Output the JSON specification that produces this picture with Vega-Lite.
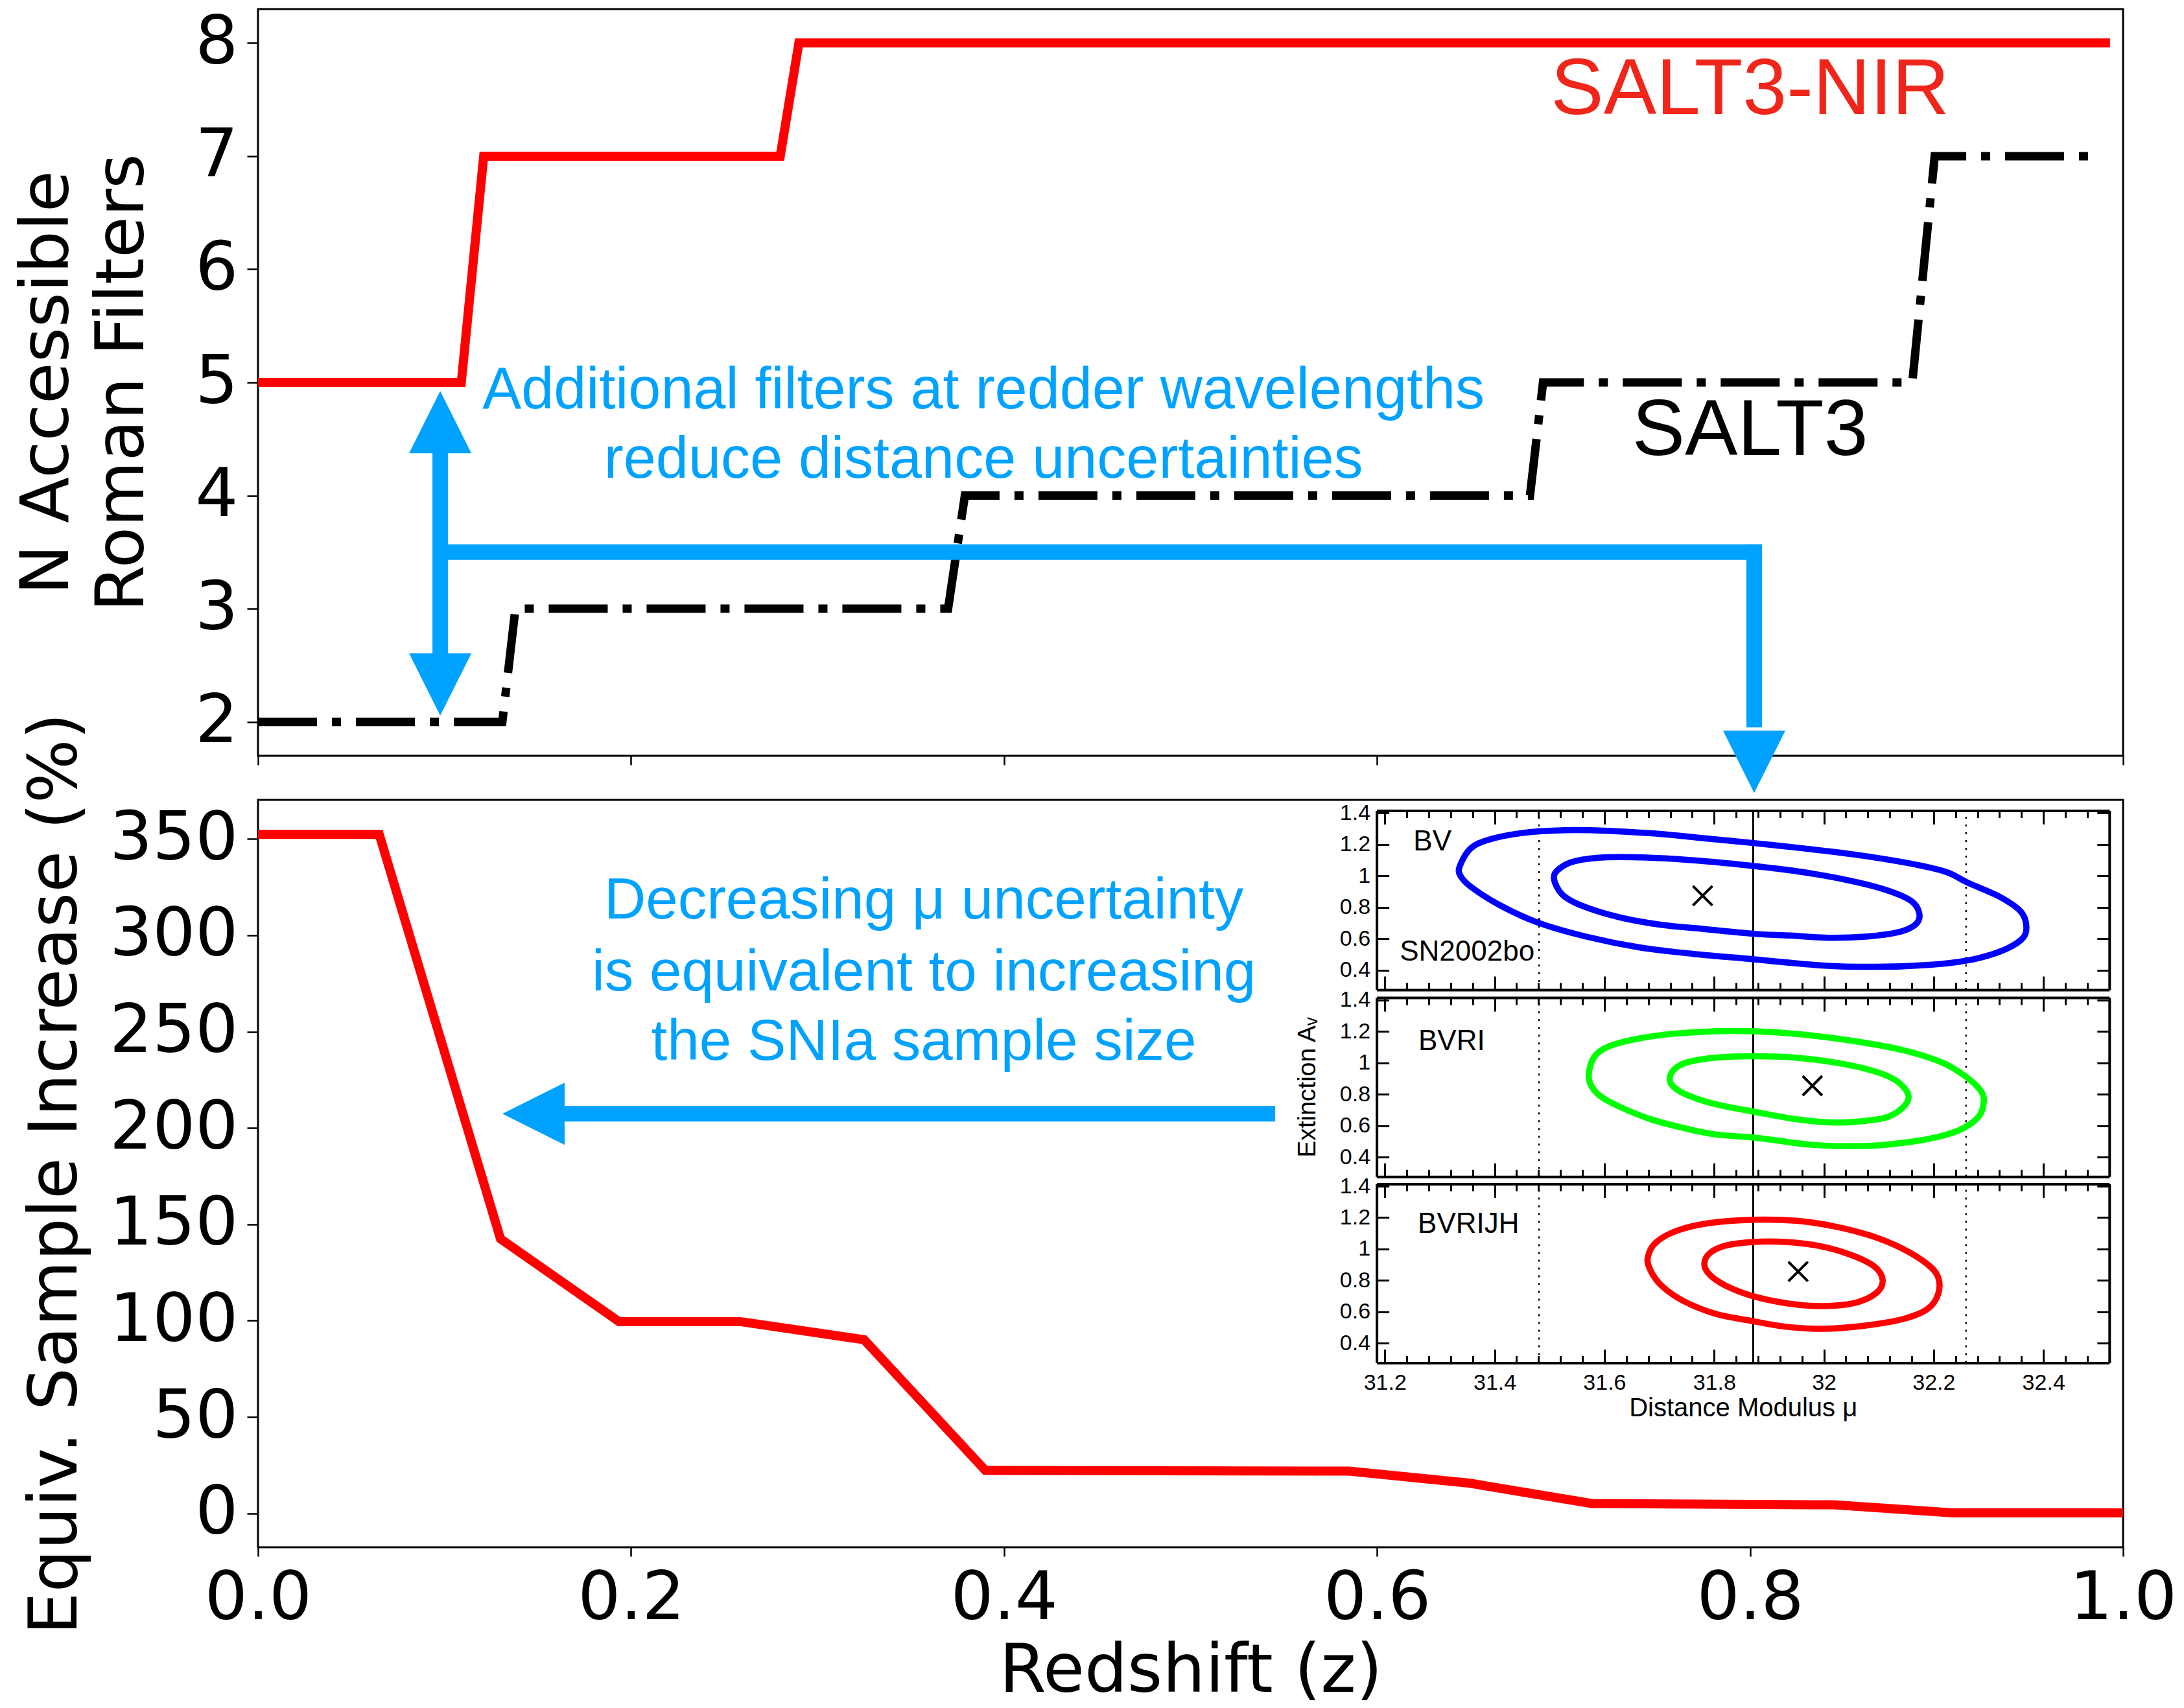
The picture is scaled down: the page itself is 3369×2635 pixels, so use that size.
{
  "$schema": "https://vega.github.io/schema/vega-lite/v6.json",
  "background": "white",
  "padding": {"left": 20, "top": 12, "right": 5, "bottom": 30},
  "bounds": "flush",
  "spacing": 68,
  "config": {
    "view": {"stroke": "black", "strokeWidth": 3},
    "axis": {"domain": false, "grid": false, "tickColor": "black", "tickWidth": 2.5, "labelFont": "DejaVu Sans", "labelFontSize": 104, "labelColor": "black", "titleFont": "DejaVu Sans", "titleFontSize": 104, "titleFontWeight": "normal", "titleColor": "black", "labelPadding": 14, "labelOverlap": false, "labelLimit": 0, "titleLimit": 0, "maxExtent": 2000},
    "text": {"font": "Liberation Sans"}
  },
  "datasets": {
    "steps": [
      {"model": "SALT3-NIR", "z": 0, "n": 5}, {"model": "SALT3-NIR", "z": 0.109, "n": 5}, {"model": "SALT3-NIR", "z": 0.121, "n": 7}, {"model": "SALT3-NIR", "z": 0.28, "n": 7}, {"model": "SALT3-NIR", "z": 0.29, "n": 8}, {"model": "SALT3-NIR", "z": 0.993, "n": 8},
      {"model": "SALT3", "z": 0, "n": 2}, {"model": "SALT3", "z": 0.131, "n": 2}, {"model": "SALT3", "z": 0.138, "n": 3}, {"model": "SALT3", "z": 0.37, "n": 3}, {"model": "SALT3", "z": 0.379, "n": 4}, {"model": "SALT3", "z": 0.682, "n": 4}, {"model": "SALT3", "z": 0.689, "n": 5}, {"model": "SALT3", "z": 0.887, "n": 5}, {"model": "SALT3", "z": 0.899, "n": 7}, {"model": "SALT3", "z": 0.984, "n": 7}
    ],
    "sample": [
      {"z": 0, "pct": 352.4}, {"z": 0.065, "pct": 352.4}, {"z": 0.13, "pct": 142.5}, {"z": 0.1936, "pct": 99.5}, {"z": 0.2586, "pct": 99.5}, {"z": 0.325, "pct": 90.1}, {"z": 0.39, "pct": 22.3}, {"z": 0.585, "pct": 21.9}, {"z": 0.65, "pct": 15.6}, {"z": 0.715, "pct": 5.1}, {"z": 0.845, "pct": 4.4}, {"z": 0.909, "pct": 0.2}, {"z": 1.0, "pct": 0.2}
    ],
    "shafts_top": [
      {"z": 0.0977, "z2": 0.0977, "y": 2.5, "y2": 4.45},
      {"z": 0.0977, "z2": 0.8064, "y": 3.5, "y2": 3.5},
      {"z": 0.8022, "z2": 0.8022, "y": 3.569, "y2": 1.95}
    ],
    "heads_top": [
      {"z": 0.0977, "y": 4.649, "dir": "up"}, {"z": 0.0977, "y": 2.33, "dir": "down"}, {"z": 0.8022, "y": 1.647, "dir": "down"}
    ],
    "notes_top": [
      {"z": 0.389, "y": 4.77, "text": "Additional filters at redder wavelengths"},
      {"z": 0.389, "y": 4.159, "text": "reduce distance uncertainties"}
    ],
    "labels_top": [
      {"z": 0.8, "y": 7.373, "text": "SALT3-NIR", "model": "SALT3-NIR"},
      {"z": 0.8, "y": 4.358, "text": "SALT3", "model": "SALT3"}
    ],
    "shaft_bot": [{"z": 0.158, "z2": 0.5454, "pct": 207.4}],
    "head_bot": [{"z": 0.1477, "pct": 207.4, "dir": "left"}],
    "notes_bot": [
      {"z": 0.357, "pct": 308.8, "text": "Decreasing μ uncertainty"},
      {"z": 0.357, "pct": 271.3, "text": "is equivalent to increasing"},
      {"z": 0.357, "pct": 235.4, "text": "the SNIa sample size"}
    ],
    "vlines": [{"mu": 31.481, "kind": "dot"}, {"mu": 32.259, "kind": "dot"}, {"mu": 31.871, "kind": "solid"}],
    "xmarks": [{"p": 1, "mu": 31.779, "av": 0.873}, {"p": 2, "mu": 31.979, "av": 0.854}, {"p": 3, "mu": 31.953, "av": 0.857}],
    "insettext": [
      {"p": 1, "mu": 31.252, "av": 1.162, "text": "BV"},
      {"p": 1, "mu": 31.227, "av": 0.461, "text": "SN2002bo"},
      {"p": 2, "mu": 31.261, "av": 1.081, "text": "BVRI"},
      {"p": 3, "mu": 31.26, "av": 1.104, "text": "BVRIJH"}
    ],
    "contours": [
      {"p":1,"r":"o","i":0,"mu":31.337,"av":1.066},{"p":1,"r":"o","i":1,"mu":31.357,"av":1.176},{"p":1,"r":"o","i":2,"mu":31.391,"av":1.231},{"p":1,"r":"o","i":3,"mu":31.45,"av":1.272},{"p":1,"r":"o","i":4,"mu":31.528,"av":1.29},{"p":1,"r":"o","i":5,"mu":31.606,"av":1.286},{"p":1,"r":"o","i":6,"mu":31.704,"av":1.265},{"p":1,"r":"o","i":7,"mu":31.782,"av":1.238},{"p":1,"r":"o","i":8,"mu":31.872,"av":1.208},{"p":1,"r":"o","i":9,"mu":31.958,"av":1.176},{"p":1,"r":"o","i":10,"mu":32.056,"av":1.135},{"p":1,"r":"o","i":11,"mu":32.154,"av":1.08},{"p":1,"r":"o","i":12,"mu":32.222,"av":1.025},{"p":1,"r":"o","i":13,"mu":32.262,"av":0.956},{"p":1,"r":"o","i":14,"mu":32.32,"av":0.867},{"p":1,"r":"o","i":15,"mu":32.359,"av":0.771},{"p":1,"r":"o","i":16,"mu":32.369,"av":0.668},{"p":1,"r":"o","i":17,"mu":32.359,"av":0.592},{"p":1,"r":"o","i":18,"mu":32.32,"av":0.517},{"p":1,"r":"o","i":19,"mu":32.262,"av":0.462},{"p":1,"r":"o","i":20,"mu":32.193,"av":0.434},{"p":1,"r":"o","i":21,"mu":32.095,"av":0.421},{"p":1,"r":"o","i":22,"mu":31.997,"av":0.43},{"p":1,"r":"o","i":23,"mu":31.872,"av":0.469},{"p":1,"r":"o","i":24,"mu":31.763,"av":0.503},{"p":1,"r":"o","i":25,"mu":31.665,"av":0.544},{"p":1,"r":"o","i":26,"mu":31.567,"av":0.613},{"p":1,"r":"o","i":27,"mu":31.479,"av":0.702},{"p":1,"r":"o","i":28,"mu":31.41,"av":0.812},{"p":1,"r":"o","i":29,"mu":31.357,"av":0.929},{"p":1,"r":"o","i":30,"mu":31.337,"av":1.004},
      {"p":1,"r":"n","i":0,"mu":31.508,"av":0.984},{"p":1,"r":"n","i":1,"mu":31.518,"av":1.046},{"p":1,"r":"n","i":2,"mu":31.547,"av":1.094},{"p":1,"r":"n","i":3,"mu":31.606,"av":1.118},{"p":1,"r":"n","i":4,"mu":31.704,"av":1.112},{"p":1,"r":"n","i":5,"mu":31.802,"av":1.087},{"p":1,"r":"n","i":6,"mu":31.872,"av":1.062},{"p":1,"r":"n","i":7,"mu":31.958,"av":1.025},{"p":1,"r":"n","i":8,"mu":32.046,"av":0.97},{"p":1,"r":"n","i":9,"mu":32.115,"av":0.908},{"p":1,"r":"n","i":10,"mu":32.159,"av":0.84},{"p":1,"r":"n","i":11,"mu":32.174,"av":0.757},{"p":1,"r":"n","i":12,"mu":32.166,"av":0.688},{"p":1,"r":"n","i":13,"mu":32.134,"av":0.64},{"p":1,"r":"n","i":14,"mu":32.076,"av":0.613},{"p":1,"r":"n","i":15,"mu":32.007,"av":0.606},{"p":1,"r":"n","i":16,"mu":31.939,"av":0.62},{"p":1,"r":"n","i":17,"mu":31.872,"av":0.631},{"p":1,"r":"n","i":18,"mu":31.782,"av":0.661},{"p":1,"r":"n","i":19,"mu":31.704,"av":0.688},{"p":1,"r":"n","i":20,"mu":31.626,"av":0.737},{"p":1,"r":"n","i":21,"mu":31.557,"av":0.812},{"p":1,"r":"n","i":22,"mu":31.523,"av":0.881},
      {"p":2,"r":"o","i":0,"mu":31.572,"av":0.943},{"p":2,"r":"o","i":1,"mu":31.582,"av":1.04},{"p":2,"r":"o","i":2,"mu":31.606,"av":1.102},{"p":2,"r":"o","i":3,"mu":31.655,"av":1.15},{"p":2,"r":"o","i":4,"mu":31.723,"av":1.184},{"p":2,"r":"o","i":5,"mu":31.802,"av":1.201},{"p":2,"r":"o","i":6,"mu":31.872,"av":1.201},{"p":2,"r":"o","i":7,"mu":31.949,"av":1.184},{"p":2,"r":"o","i":8,"mu":32.046,"av":1.143},{"p":2,"r":"o","i":9,"mu":32.144,"av":1.081},{"p":2,"r":"o","i":10,"mu":32.213,"av":1.005},{"p":2,"r":"o","i":11,"mu":32.257,"av":0.916},{"p":2,"r":"o","i":12,"mu":32.286,"av":0.82},{"p":2,"r":"o","i":13,"mu":32.291,"av":0.744},{"p":2,"r":"o","i":14,"mu":32.281,"av":0.654},{"p":2,"r":"o","i":15,"mu":32.247,"av":0.572},{"p":2,"r":"o","i":16,"mu":32.193,"av":0.517},{"p":2,"r":"o","i":17,"mu":32.125,"av":0.483},{"p":2,"r":"o","i":18,"mu":32.056,"av":0.469},{"p":2,"r":"o","i":19,"mu":31.978,"av":0.478},{"p":2,"r":"o","i":20,"mu":31.919,"av":0.503},{"p":2,"r":"o","i":21,"mu":31.872,"av":0.524},{"p":2,"r":"o","i":22,"mu":31.802,"av":0.544},{"p":2,"r":"o","i":23,"mu":31.743,"av":0.586},{"p":2,"r":"o","i":24,"mu":31.684,"av":0.641},{"p":2,"r":"o","i":25,"mu":31.626,"av":0.723},{"p":2,"r":"o","i":26,"mu":31.591,"av":0.792},{"p":2,"r":"o","i":27,"mu":31.574,"av":0.868},
      {"p":2,"r":"n","i":0,"mu":31.719,"av":0.902},{"p":2,"r":"n","i":1,"mu":31.729,"av":0.964},{"p":2,"r":"n","i":2,"mu":31.753,"av":1.005},{"p":2,"r":"n","i":3,"mu":31.802,"av":1.033},{"p":2,"r":"n","i":4,"mu":31.872,"av":1.042},{"p":2,"r":"n","i":5,"mu":31.949,"av":1.033},{"p":2,"r":"n","i":6,"mu":32.027,"av":0.998},{"p":2,"r":"n","i":7,"mu":32.095,"av":0.943},{"p":2,"r":"n","i":8,"mu":32.134,"av":0.881},{"p":2,"r":"n","i":9,"mu":32.154,"av":0.792},{"p":2,"r":"n","i":10,"mu":32.144,"av":0.716},{"p":2,"r":"n","i":11,"mu":32.115,"av":0.654},{"p":2,"r":"n","i":12,"mu":32.066,"av":0.627},{"p":2,"r":"n","i":13,"mu":32.017,"av":0.62},{"p":2,"r":"n","i":14,"mu":31.949,"av":0.641},{"p":2,"r":"n","i":15,"mu":31.872,"av":0.689},{"p":2,"r":"n","i":16,"mu":31.802,"av":0.737},{"p":2,"r":"n","i":17,"mu":31.753,"av":0.792},{"p":2,"r":"n","i":18,"mu":31.726,"av":0.847},
      {"p":3,"r":"o","i":0,"mu":31.679,"av":0.946},{"p":3,"r":"o","i":1,"mu":31.694,"av":1.042},{"p":3,"r":"o","i":2,"mu":31.733,"av":1.118},{"p":3,"r":"o","i":3,"mu":31.792,"av":1.166},{"p":3,"r":"o","i":4,"mu":31.872,"av":1.187},{"p":3,"r":"o","i":5,"mu":31.949,"av":1.18},{"p":3,"r":"o","i":6,"mu":32.017,"av":1.146},{"p":3,"r":"o","i":7,"mu":32.086,"av":1.084},{"p":3,"r":"o","i":8,"mu":32.144,"av":1.001},{"p":3,"r":"o","i":9,"mu":32.188,"av":0.905},{"p":3,"r":"o","i":10,"mu":32.208,"av":0.822},{"p":3,"r":"o","i":11,"mu":32.208,"av":0.712},{"p":3,"r":"o","i":12,"mu":32.188,"av":0.616},{"p":3,"r":"o","i":13,"mu":32.144,"av":0.554},{"p":3,"r":"o","i":14,"mu":32.076,"av":0.513},{"p":3,"r":"o","i":15,"mu":31.998,"av":0.492},{"p":3,"r":"o","i":16,"mu":31.929,"av":0.506},{"p":3,"r":"o","i":17,"mu":31.872,"av":0.54},{"p":3,"r":"o","i":18,"mu":31.802,"av":0.588},{"p":3,"r":"o","i":19,"mu":31.743,"av":0.671},{"p":3,"r":"o","i":20,"mu":31.704,"av":0.767},{"p":3,"r":"o","i":21,"mu":31.684,"av":0.864},
      {"p":3,"r":"n","i":0,"mu":31.782,"av":0.905},{"p":3,"r":"n","i":1,"mu":31.792,"av":0.974},{"p":3,"r":"n","i":2,"mu":31.821,"av":1.022},{"p":3,"r":"n","i":3,"mu":31.872,"av":1.045},{"p":3,"r":"n","i":4,"mu":31.929,"av":1.045},{"p":3,"r":"n","i":5,"mu":31.988,"av":1.022},{"p":3,"r":"n","i":6,"mu":32.046,"av":0.967},{"p":3,"r":"n","i":7,"mu":32.091,"av":0.891},{"p":3,"r":"n","i":8,"mu":32.107,"av":0.802},{"p":3,"r":"n","i":9,"mu":32.095,"av":0.719},{"p":3,"r":"n","i":10,"mu":32.056,"av":0.657},{"p":3,"r":"n","i":11,"mu":31.998,"av":0.637},{"p":3,"r":"n","i":12,"mu":31.939,"av":0.651},{"p":3,"r":"n","i":13,"mu":31.872,"av":0.699},{"p":3,"r":"n","i":14,"mu":31.821,"av":0.767},{"p":3,"r":"n","i":15,"mu":31.792,"av":0.836}
    ]
  },
  "vconcat": [
    {
      "width": 2877,
      "height": 1152,
      "layer": [
        {
          "data": {"name": "steps"},
          "transform": [{"filter": "datum.model == 'SALT3-NIR'"}],
          "mark": {"type": "line", "color": "#ff0000", "strokeWidth": 14},
          "encoding": {
            "x": {"field": "z", "type": "quantitative", "scale": {"domain": [0, 1], "nice": false, "zero": false}, "axis": {"orient": "bottom", "values": [0, 0.2, 0.4, 0.6, 0.8, 1], "labels": false, "title": null, "tickSize": 14}},
            "y": {"field": "n", "type": "quantitative", "scale": {"domain": [1.7, 8.3], "nice": false, "zero": false}, "axis": {"orient": "left", "values": [2, 3, 4, 5, 6, 7, 8], "format": "d", "tickSize": 17, "title": ["N Accessible", "Roman Filters"], "titlePadding": 58, "titleLineHeight": 116}}
          }
        },
        {
          "data": {"name": "steps"},
          "transform": [{"filter": "datum.model == 'SALT3'"}],
          "mark": {"type": "line", "color": "#000000", "strokeWidth": 13, "strokeDash": [91, 23, 14, 23], "strokeCap": "butt"},
          "encoding": {"x": {"field": "z", "type": "quantitative"}, "y": {"field": "n", "type": "quantitative"}}
        },
        {
          "data": {"name": "shafts_top"},
          "mark": {"type": "rule", "color": "#00a2ff", "strokeWidth": 24, "strokeCap": "butt"},
          "encoding": {"x": {"field": "z", "type": "quantitative"}, "x2": {"field": "z2"}, "y": {"field": "y", "type": "quantitative"}, "y2": {"field": "y2"}}
        },
        {
          "data": {"name": "heads_top"},
          "mark": {"type": "point", "filled": true, "color": "#00a2ff", "size": 9216, "opacity": 1, "strokeWidth": 0},
          "encoding": {
            "x": {"field": "z", "type": "quantitative"},
            "y": {"field": "y", "type": "quantitative"},
            "shape": {"field": "dir", "type": "nominal", "scale": {"domain": ["up", "down", "left"], "range": ["M0,-1L1,1L-1,1Z", "M0,1L1,-1L-1,-1Z", "M-1,0L1,-1L1,1Z"]}, "legend": null}
          }
        },
        {
          "data": {"name": "notes_top"},
          "mark": {"type": "text", "font": "Liberation Sans", "fontSize": 90, "color": "#00a2ff", "align": "center", "baseline": "alphabetic"},
          "encoding": {"x": {"field": "z", "type": "quantitative"}, "y": {"field": "y", "type": "quantitative"}, "text": {"field": "text"}}
        },
        {
          "data": {"name": "labels_top"},
          "mark": {"type": "text", "font": "Liberation Sans", "fontSize": 122, "align": "center", "baseline": "alphabetic"},
          "encoding": {
            "x": {"field": "z", "type": "quantitative"},
            "y": {"field": "y", "type": "quantitative"},
            "text": {"field": "text"},
            "color": {"field": "model", "type": "nominal", "scale": {"domain": ["SALT3-NIR", "SALT3"], "range": ["#f0261b", "#000000"]}, "legend": null}
          }
        }
      ]
    },
    {
      "width": 2877,
      "height": 1153,
      "resolve": {"scale": {"x": "independent", "y": "independent"}},
      "layer": [
        {
          "layer": [
            {
              "data": {"name": "sample"},
              "mark": {"type": "line", "color": "#ff0000", "strokeWidth": 14},
              "encoding": {
                "x": {"field": "z", "type": "quantitative", "scale": {"domain": [0, 1], "nice": false, "zero": false}, "axis": {"orient": "bottom", "values": [0, 0.2, 0.4, 0.6, 0.8, 1], "format": ".1f", "tickSize": 14, "labelPadding": 14, "labelFlush": false, "title": "Redshift (z)", "titlePadding": 9}},
                "y": {"field": "pct", "type": "quantitative", "scale": {"domain": [-17.6, 370.3], "nice": false, "zero": false}, "axis": {"orient": "left", "values": [0, 50, 100, 150, 200, 250, 300, 350], "format": "d", "tickSize": 17, "title": "Equiv. Sample Increase (%)", "titlePadding": 29}}
              }
            },
            {
              "data": {"name": "shaft_bot"},
              "mark": {"type": "rule", "color": "#00a2ff", "strokeWidth": 24, "strokeCap": "butt"},
              "encoding": {"x": {"field": "z", "type": "quantitative"}, "x2": {"field": "z2"}, "y": {"field": "pct", "type": "quantitative"}}
            },
            {
              "data": {"name": "head_bot"},
              "mark": {"type": "point", "filled": true, "color": "#00a2ff", "size": 9216, "opacity": 1, "strokeWidth": 0},
              "encoding": {
                "x": {"field": "z", "type": "quantitative"},
                "y": {"field": "pct", "type": "quantitative"},
                "shape": {"field": "dir", "type": "nominal", "scale": {"domain": ["up", "down", "left"], "range": ["M0,-1L1,1L-1,1Z", "M0,1L1,-1L-1,-1Z", "M-1,0L1,-1L1,1Z"]}, "legend": null}
              }
            },
            {
              "data": {"name": "notes_bot"},
              "mark": {"type": "text", "font": "Liberation Sans", "fontSize": 89, "color": "#00a2ff", "align": "center", "baseline": "alphabetic"},
              "encoding": {"x": {"field": "z", "type": "quantitative"}, "y": {"field": "pct", "type": "quantitative"}, "text": {"field": "text"}}
            }
          ]
        },
        {
          "resolve": {"axis": {"x": "independent", "y": "independent"}},
          "layer": [
            {
              "data": {"name": "vlines"},
              "transform": [{"filter": "datum.kind == 'dot'"}],
              "mark": {"type": "rule", "color": "black", "strokeWidth": 2.5, "strokeDash": [3, 9]},
              "encoding": {
                "x": {"field": "mu", "type": "quantitative", "scale": {"domain": [31.185, 32.52], "range": [1725.6, 2855.8], "nice": false, "zero": false},
                      "axis": {"orient": "bottom", "offset": -860, "values": [31.2, 31.4, 31.6, 31.8, 32, 32.2, 32.4], "labels": false, "title": null, "domain": true, "domainColor": "black", "domainWidth": 4, "tickSize": -21, "tickWidth": 3}},
                "y": {"datum": 0.275, "type": "quantitative", "scale": {"domain": [0.275, 1.415], "range": [293, 16.4], "nice": false, "zero": false},
                      "axis": {"orient": "left", "offset": -1725.6, "values": [0.4, 0.6, 0.8, 1, 1.2, 1.4], "format": "~g", "labelFont": "Liberation Sans", "labelFontSize": 34, "labelPadding": 29, "tickSize": -19, "tickWidth": 3, "domain": true, "domainColor": "black", "domainWidth": 4, "title": null}},
                "y2": {"datum": 1.415}
              }
            },
            {
              "data": {"name": "vlines"},
              "transform": [{"filter": "datum.kind == 'solid'"}],
              "mark": {"type": "rule", "color": "black", "strokeWidth": 3},
              "encoding": {
                "x": {"field": "mu", "type": "quantitative", "axis": {"orient": "top", "offset": -16.4, "values": [31.2, 31.4, 31.6, 31.8, 32, 32.2, 32.4], "labels": false, "title": null, "domain": true, "domainColor": "black", "domainWidth": 4, "tickSize": -21, "tickWidth": 3}},
                "y": {"datum": 0.275, "type": "quantitative", "axis": {"orient": "right", "offset": -21.2, "values": [0.4, 0.6, 0.8, 1, 1.2, 1.4], "labels": false, "tickSize": -19, "tickWidth": 3, "domain": true, "domainColor": "black", "domainWidth": 4, "title": null}},
                "y2": {"datum": 1.415}
              }
            },
            {
              "data": {"name": "contours"},
              "transform": [{"filter": "datum.p == 1"}],
              "mark": {"type": "line", "color": "#0000ff", "strokeWidth": 9.5, "interpolate": "cardinal-closed", "strokeJoin": "round"},
              "encoding": {
                "x": {"field": "mu", "type": "quantitative", "axis": {"orient": "bottom", "offset": -860, "values": [31.2,31.24,31.28,31.32,31.36,31.4,31.44,31.48,31.52,31.56,31.6,31.64,31.68,31.72,31.76,31.8,31.84,31.88,31.92,31.96,32,32.04,32.08,32.12,32.16,32.2,32.24,32.28,32.32,32.36,32.4,32.44,32.48], "labels": false, "title": null, "domain": false, "tickSize": -11, "tickWidth": 3}},
                "y": {"field": "av", "type": "quantitative", "axis": null},
                "detail": {"field": "r"},
                "order": {"field": "i"}
              }
            },
            {
              "data": {"name": "xmarks"},
              "transform": [{"filter": "datum.p == 1"}],
              "mark": {"type": "point", "shape": "M-1,-1L1,1M-1,1L1,-1", "size": 900, "color": "black", "strokeWidth": 4, "filled": false, "opacity": 1},
              "encoding": {
                "x": {"field": "mu", "type": "quantitative", "axis": {"orient": "top", "offset": -16.4, "values": [31.2,31.24,31.28,31.32,31.36,31.4,31.44,31.48,31.52,31.56,31.6,31.64,31.68,31.72,31.76,31.8,31.84,31.88,31.92,31.96,32,32.04,32.08,32.12,32.16,32.2,32.24,32.28,32.32,32.36,32.4,32.44,32.48], "labels": false, "title": null, "domain": false, "tickSize": -11, "tickWidth": 3}},
                "y": {"field": "av", "type": "quantitative", "axis": null}
              }
            },
            {
              "data": {"name": "insettext"},
              "transform": [{"filter": "datum.p == 1"}],
              "mark": {"type": "text", "align": "left", "baseline": "alphabetic", "fontSize": 44, "font": "Liberation Sans", "color": "black"},
              "encoding": {"x": {"field": "mu", "type": "quantitative", "axis": null}, "y": {"field": "av", "type": "quantitative", "axis": null}, "text": {"field": "text"}}
            }
          ]
        },
        {
          "resolve": {"axis": {"x": "independent", "y": "independent"}},
          "layer": [
            {
              "data": {"name": "vlines"},
              "transform": [{"filter": "datum.kind == 'dot'"}],
              "mark": {"type": "rule", "color": "black", "strokeWidth": 2.5, "strokeDash": [3, 9]},
              "encoding": {
                "x": {"field": "mu", "type": "quantitative", "scale": {"domain": [31.185, 32.52], "range": [1725.6, 2855.8], "nice": false, "zero": false},
                      "axis": {"orient": "bottom", "offset": -571.7, "values": [31.2, 31.4, 31.6, 31.8, 32, 32.2, 32.4], "labels": false, "title": null, "domain": true, "domainColor": "black", "domainWidth": 4, "tickSize": -21, "tickWidth": 3}},
                "y": {"datum": 0.275, "type": "quantitative", "scale": {"domain": [0.275, 1.415], "range": [581.3, 305.1], "nice": false, "zero": false},
                      "axis": {"orient": "left", "offset": -1725.6, "values": [0.4, 0.6, 0.8, 1, 1.2, 1.4], "format": "~g", "labelFont": "Liberation Sans", "labelFontSize": 34, "labelPadding": 29, "tickSize": -19, "tickWidth": 3, "domain": true, "domainColor": "black", "domainWidth": 4, "title": "Extinction Aᵥ", "titleFont": "Liberation Sans", "titleFontSize": 39, "titlePadding": 30}},
                "y2": {"datum": 1.415}
              }
            },
            {
              "data": {"name": "vlines"},
              "transform": [{"filter": "datum.kind == 'solid'"}],
              "mark": {"type": "rule", "color": "black", "strokeWidth": 3},
              "encoding": {
                "x": {"field": "mu", "type": "quantitative", "axis": {"orient": "top", "offset": -305.1, "values": [31.2, 31.4, 31.6, 31.8, 32, 32.2, 32.4], "labels": false, "title": null, "domain": true, "domainColor": "black", "domainWidth": 4, "tickSize": -21, "tickWidth": 3}},
                "y": {"datum": 0.275, "type": "quantitative", "axis": {"orient": "right", "offset": -21.2, "values": [0.4, 0.6, 0.8, 1, 1.2, 1.4], "labels": false, "tickSize": -19, "tickWidth": 3, "domain": true, "domainColor": "black", "domainWidth": 4, "title": null}},
                "y2": {"datum": 1.415}
              }
            },
            {
              "data": {"name": "contours"},
              "transform": [{"filter": "datum.p == 2"}],
              "mark": {"type": "line", "color": "#00ff00", "strokeWidth": 9.5, "interpolate": "cardinal-closed", "strokeJoin": "round"},
              "encoding": {
                "x": {"field": "mu", "type": "quantitative", "axis": {"orient": "bottom", "offset": -571.7, "values": [31.2,31.24,31.28,31.32,31.36,31.4,31.44,31.48,31.52,31.56,31.6,31.64,31.68,31.72,31.76,31.8,31.84,31.88,31.92,31.96,32,32.04,32.08,32.12,32.16,32.2,32.24,32.28,32.32,32.36,32.4,32.44,32.48], "labels": false, "title": null, "domain": false, "tickSize": -11, "tickWidth": 3}},
                "y": {"field": "av", "type": "quantitative", "axis": null},
                "detail": {"field": "r"},
                "order": {"field": "i"}
              }
            },
            {
              "data": {"name": "xmarks"},
              "transform": [{"filter": "datum.p == 2"}],
              "mark": {"type": "point", "shape": "M-1,-1L1,1M-1,1L1,-1", "size": 900, "color": "black", "strokeWidth": 4, "filled": false, "opacity": 1},
              "encoding": {
                "x": {"field": "mu", "type": "quantitative", "axis": {"orient": "top", "offset": -305.1, "values": [31.2,31.24,31.28,31.32,31.36,31.4,31.44,31.48,31.52,31.56,31.6,31.64,31.68,31.72,31.76,31.8,31.84,31.88,31.92,31.96,32,32.04,32.08,32.12,32.16,32.2,32.24,32.28,32.32,32.36,32.4,32.44,32.48], "labels": false, "title": null, "domain": false, "tickSize": -11, "tickWidth": 3}},
                "y": {"field": "av", "type": "quantitative", "axis": null}
              }
            },
            {
              "data": {"name": "insettext"},
              "transform": [{"filter": "datum.p == 2"}],
              "mark": {"type": "text", "align": "left", "baseline": "alphabetic", "fontSize": 44, "font": "Liberation Sans", "color": "black"},
              "encoding": {"x": {"field": "mu", "type": "quantitative", "axis": null}, "y": {"field": "av", "type": "quantitative", "axis": null}, "text": {"field": "text"}}
            }
          ]
        },
        {
          "resolve": {"axis": {"x": "independent", "y": "independent"}},
          "layer": [
            {
              "data": {"name": "vlines"},
              "transform": [{"filter": "datum.kind == 'dot'"}],
              "mark": {"type": "rule", "color": "black", "strokeWidth": 2.5, "strokeDash": [3, 9]},
              "encoding": {
                "x": {"field": "mu", "type": "quantitative", "scale": {"domain": [31.185, 32.52], "range": [1725.6, 2855.8], "nice": false, "zero": false},
                      "axis": {"orient": "bottom", "offset": -284.4, "values": [31.2, 31.4, 31.6, 31.8, 32, 32.2, 32.4], "format": "~g", "labelFont": "Liberation Sans", "labelFontSize": 34, "labelPadding": 35, "labelFlush": false, "domain": true, "domainColor": "black", "domainWidth": 4, "tickSize": -21, "tickWidth": 3, "title": "Distance Modulus μ", "titleFont": "Liberation Sans", "titleFontSize": 40, "titlePadding": 2}},
                "y": {"datum": 0.275, "type": "quantitative", "scale": {"domain": [0.275, 1.415], "range": [868.6, 592.4], "nice": false, "zero": false},
                      "axis": {"orient": "left", "offset": -1725.6, "values": [0.4, 0.6, 0.8, 1, 1.2, 1.4], "format": "~g", "labelFont": "Liberation Sans", "labelFontSize": 34, "labelPadding": 29, "tickSize": -19, "tickWidth": 3, "domain": true, "domainColor": "black", "domainWidth": 4, "title": null}},
                "y2": {"datum": 1.415}
              }
            },
            {
              "data": {"name": "vlines"},
              "transform": [{"filter": "datum.kind == 'solid'"}],
              "mark": {"type": "rule", "color": "black", "strokeWidth": 3},
              "encoding": {
                "x": {"field": "mu", "type": "quantitative", "axis": {"orient": "top", "offset": -592.4, "values": [31.2, 31.4, 31.6, 31.8, 32, 32.2, 32.4], "labels": false, "title": null, "domain": true, "domainColor": "black", "domainWidth": 4, "tickSize": -21, "tickWidth": 3}},
                "y": {"datum": 0.275, "type": "quantitative", "axis": {"orient": "right", "offset": -21.2, "values": [0.4, 0.6, 0.8, 1, 1.2, 1.4], "labels": false, "tickSize": -19, "tickWidth": 3, "domain": true, "domainColor": "black", "domainWidth": 4, "title": null}},
                "y2": {"datum": 1.415}
              }
            },
            {
              "data": {"name": "contours"},
              "transform": [{"filter": "datum.p == 3"}],
              "mark": {"type": "line", "color": "#ff0000", "strokeWidth": 9.5, "interpolate": "cardinal-closed", "strokeJoin": "round"},
              "encoding": {
                "x": {"field": "mu", "type": "quantitative", "axis": {"orient": "bottom", "offset": -284.4, "values": [31.2,31.24,31.28,31.32,31.36,31.4,31.44,31.48,31.52,31.56,31.6,31.64,31.68,31.72,31.76,31.8,31.84,31.88,31.92,31.96,32,32.04,32.08,32.12,32.16,32.2,32.24,32.28,32.32,32.36,32.4,32.44,32.48], "labels": false, "title": null, "domain": false, "tickSize": -11, "tickWidth": 3}},
                "y": {"field": "av", "type": "quantitative", "axis": null},
                "detail": {"field": "r"},
                "order": {"field": "i"}
              }
            },
            {
              "data": {"name": "xmarks"},
              "transform": [{"filter": "datum.p == 3"}],
              "mark": {"type": "point", "shape": "M-1,-1L1,1M-1,1L1,-1", "size": 900, "color": "black", "strokeWidth": 4, "filled": false, "opacity": 1},
              "encoding": {
                "x": {"field": "mu", "type": "quantitative", "axis": {"orient": "top", "offset": -592.4, "values": [31.2,31.24,31.28,31.32,31.36,31.4,31.44,31.48,31.52,31.56,31.6,31.64,31.68,31.72,31.76,31.8,31.84,31.88,31.92,31.96,32,32.04,32.08,32.12,32.16,32.2,32.24,32.28,32.32,32.36,32.4,32.44,32.48], "labels": false, "title": null, "domain": false, "tickSize": -11, "tickWidth": 3}},
                "y": {"field": "av", "type": "quantitative", "axis": null}
              }
            },
            {
              "data": {"name": "insettext"},
              "transform": [{"filter": "datum.p == 3"}],
              "mark": {"type": "text", "align": "left", "baseline": "alphabetic", "fontSize": 44, "font": "Liberation Sans", "color": "black"},
              "encoding": {"x": {"field": "mu", "type": "quantitative", "axis": null}, "y": {"field": "av", "type": "quantitative", "axis": null}, "text": {"field": "text"}}
            }
          ]
        }
      ]
    }
  ]
}
